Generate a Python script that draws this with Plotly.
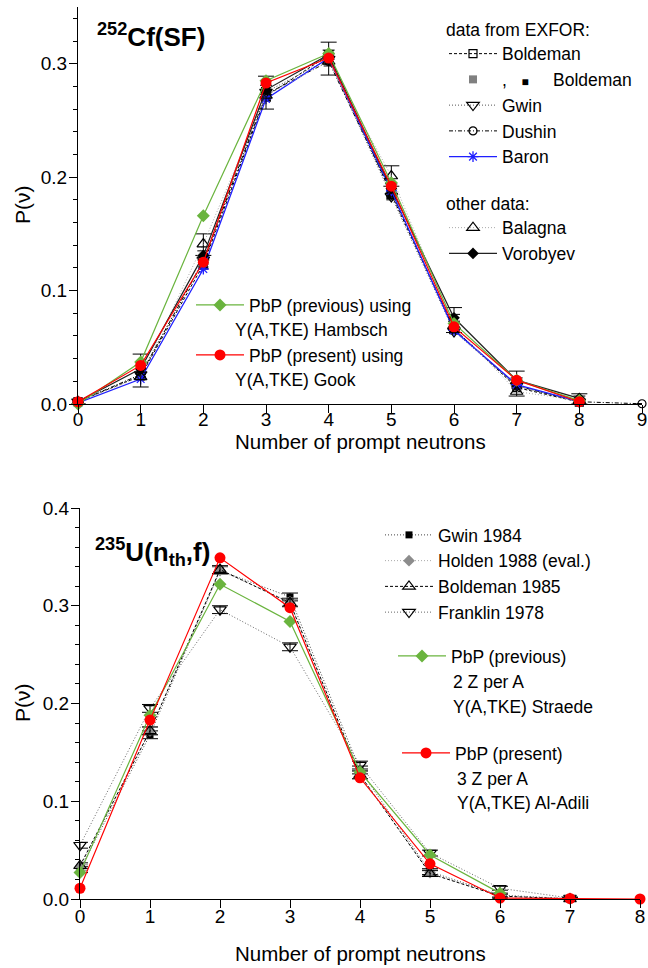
import plotly.graph_objects as go

W, H = 648, 968
FONT = "Liberation Sans, Arial, sans-serif"

# ---------------- data: 252Cf(SF) ----------------
nu_cf = [0, 1, 2, 3, 4, 5, 6, 7, 8, 9]
cf_boldeman_open = [0.0021, 0.0247, 0.1229, 0.2714, 0.3076, 0.1849, 0.0662, 0.0145, 0.0017]
cf_boldeman_gray = [0.0020, 0.0250, 0.1240, 0.2730, 0.3060, 0.1860, 0.0650, 0.0150, 0.0020]
cf_boldeman_black = [0.0020, 0.0240, 0.1220, 0.2710, 0.3040, 0.1840, 0.0670, 0.0160, 0.0020]
cf_gwin = [0.0020, 0.0260, 0.1270, 0.2750, 0.3040, 0.1830, 0.0640, 0.0160, 0.0020]
cf_dushin = [0.0020, 0.0260, 0.1260, 0.2730, 0.3020, 0.1870, 0.0660, 0.0160, 0.0020, 0.0002]
cf_baron = [0.0010, 0.0220, 0.1190, 0.2690, 0.3050, 0.1880, 0.0650, 0.0170, 0.0020]
cf_balagna = [0.0020, 0.0240, 0.1410, 0.2720, 0.3020, 0.2010, 0.0690, 0.0110, 0.0030]
cf_balagna_err_plus = [0.002, 0.020, 0.009, 0.017, 0.017, 0.009, 0.016, 0.018, 0.006]
cf_balagna_err_minus = [0.002, 0.009, 0.010, 0.012, 0.012, 0.009, 0.006, 0.004, 0.003]
cf_vorobyev = [0.0020, 0.0310, 0.1310, 0.2770, 0.3080, 0.1900, 0.0760, 0.0210, 0.0050]
cf_vorobyev_err = [0.001, 0.003, 0.004, 0.004, 0.004, 0.004, 0.003, 0.002, 0.002]
cf_exp_err = [0.0005, 0.002, 0.003, 0.004, 0.004, 0.003, 0.002, 0.001, 0.0005, 0.0002]
cf_pbp_prev = [0.000, 0.037, 0.166, 0.285, 0.309, 0.195, 0.071, 0.021, 0.003]
cf_pbp_pres = [0.002, 0.034, 0.125, 0.283, 0.305, 0.192, 0.068, 0.021, 0.002]

# ---------------- data: 235U(nth,f) ----------------
nu_u = [0, 1, 2, 3, 4, 5, 6, 7, 8]
u_gwin84 = [0.030, 0.168, 0.336, 0.309, 0.132, 0.028, 0.004, 0.0003]
u_holden88 = [0.032, 0.172, 0.336, 0.304, 0.127, 0.027, 0.003, 0.0001]
u_boldeman85 = [0.034, 0.172, 0.337, 0.303, 0.127, 0.026, 0.003, 0.0001]
u_franklin78 = [0.055, 0.195, 0.296, 0.258, 0.137, 0.047, 0.011, 0.001]
u_exp_err = [0.003, 0.004, 0.004, 0.004, 0.004, 0.003, 0.002, 0.001]
u_pbp_prev = [0.027, 0.188, 0.322, 0.284, 0.130, 0.045, 0.006]
u_pbp_pres = [0.011, 0.183, 0.349, 0.298, 0.124, 0.036, 0.001, 0.0005, 0.0]

# tick values
x_ticks_cf = [0, 1, 2, 3, 4, 5, 6, 7, 8, 9]
x_ticks_u = [0, 1, 2, 3, 4, 5, 6, 7, 8]
y_ticks_cf = [0.0, 0.1, 0.2, 0.3]
y_ticks_u = [0.0, 0.1, 0.2, 0.3, 0.4]

GREEN = "#6ab43e"
RED = "#ff0000"
BLUE = "#1f1fff"


def px(x):
    return x / W


def py(y):
    return 1 - y / H


fig = go.Figure()


def err(arr, plus=None, minus=None, color="black", width=5):
    if plus is None:
        return dict(type="data", array=arr, color=color, thickness=1, width=width, visible=True)
    return dict(type="data", symmetric=False, array=plus, arrayminus=minus,
                color=color, thickness=1, width=width, visible=True)


def add(x, y, name, xa, ya, legend=None, mode="lines+markers", line=None, marker=None,
        error_y=None, showlegend=True):
    n = len(y)
    fig.add_trace(go.Scatter(
        x=x[:n], y=y, name=name, mode=mode, xaxis=xa, yaxis=ya,
        line=line, marker=marker, error_y=error_y, cliponaxis=False,
        legend=legend, showlegend=showlegend, hoverinfo="skip"))


# ---- top panel traces ----
add(nu_cf, cf_boldeman_open, "Boldeman", "x", "y", legend="legend",
    line=dict(color="black", width=1, dash="3px,2px"),
    marker=dict(symbol="square-open", size=8, color="black", line=dict(width=1.2)),
    error_y=err(cf_exp_err[:9]))
add(nu_cf, cf_boldeman_gray, ',   <span style="font-size:12px">■</span>     Boldeman', "x", "y",
    legend="legend", mode="markers",
    marker=dict(symbol="square", size=8, color="#808080"),
    error_y=err(cf_exp_err[:9]))
add(nu_cf, cf_boldeman_black, "Boldeman black", "x", "y", mode="markers",
    marker=dict(symbol="square", size=7, color="black"),
    error_y=err(cf_exp_err[:9]), showlegend=False)
add(nu_cf, cf_gwin, "Gwin", "x", "y", legend="legend",
    line=dict(color="#555555", width=1, dash="1px,2px"),
    marker=dict(symbol="triangle-down-open", size=11, color="black", line=dict(width=1.2)),
    error_y=err(cf_exp_err[:9]))
add(nu_cf, cf_dushin, "Dushin", "x", "y", legend="legend",
    line=dict(color="black", width=1, dash="4px,2px,1px,2px"),
    marker=dict(symbol="circle-open", size=8, color="black", line=dict(width=1.2)),
    error_y=err(cf_exp_err))
add(nu_cf, cf_baron, "Baron", "x", "y", legend="legend",
    line=dict(color=BLUE, width=1.3),
    marker=dict(symbol="asterisk-open", size=9, color=BLUE, line=dict(width=1.3, color=BLUE)))
add(nu_cf, cf_balagna, "Balagna", "x", "y", legend="legend2",
    line=dict(color="#aaaaaa", width=1, dash="1px,2px"),
    marker=dict(symbol="triangle-up-open", size=11, color="black", line=dict(width=1.2)),
    error_y=err(None, cf_balagna_err_plus, cf_balagna_err_minus, width=8))
add(nu_cf, cf_vorobyev, "Vorobyev", "x", "y", legend="legend2",
    line=dict(color="#222222", width=1.2),
    marker=dict(symbol="diamond", size=9, color="black"),
    error_y=err(cf_vorobyev_err, width=6))
add(nu_cf, cf_pbp_prev, "PbP (previous) using", "x", "y", legend="legend3",
    line=dict(color=GREEN, width=1.2),
    marker=dict(symbol="diamond", size=10, color=GREEN))
add(nu_cf, cf_pbp_pres, "PbP (present) using", "x", "y", legend="legend4",
    line=dict(color=RED, width=1.2),
    marker=dict(symbol="circle", size=11, color=RED))

# ---- bottom panel traces ----
add(nu_u, u_gwin84, "Gwin 1984", "x2", "y2", legend="legend5",
    line=dict(color="#444444", width=1, dash="1px,2px"),
    marker=dict(symbol="square", size=7, color="black"),
    error_y=err(u_exp_err, width=8))
add(nu_u, u_holden88, "Holden 1988 (eval.)", "x2", "y2", legend="legend5",
    line=dict(color="#aaaaaa", width=1, dash="1px,2px"),
    marker=dict(symbol="diamond", size=9, color="#8c8c8c"),
    error_y=err(u_exp_err, color="#8c8c8c", width=8))
add(nu_u, u_boldeman85, "Boldeman 1985", "x2", "y2", legend="legend5",
    line=dict(color="black", width=1, dash="3px,2px"),
    marker=dict(symbol="triangle-up-open", size=11, color="black", line=dict(width=1.2)),
    error_y=err(u_exp_err, width=8))
add(nu_u, u_franklin78, "Franklin 1978", "x2", "y2", legend="legend5",
    line=dict(color="#666666", width=1, dash="1px,2px"),
    marker=dict(symbol="triangle-down-open", size=11, color="black", line=dict(width=1.2)),
    error_y=err(u_exp_err, width=8))
add(nu_u, u_pbp_prev, "PbP (previous)", "x2", "y2", legend="legend6",
    line=dict(color=GREEN, width=1.2),
    marker=dict(symbol="diamond", size=10, color=GREEN))
add(nu_u, u_pbp_pres, "PbP (present)", "x2", "y2", legend="legend7",
    line=dict(color=RED, width=1.2),
    marker=dict(symbol="circle", size=11, color=RED))

# ---- axes ----
TF = dict(family=FONT, size=19, color="black")
common = dict(showline=True, linecolor="black", linewidth=1.3, showgrid=False, zeroline=False,
              ticklen=8, tickwidth=1.2, tickcolor="black", tickfont=TF, automargin=False)
dom_x1 = [px(78), px(642)]
dom_y1 = [py(404), py(7)]
dom_x2 = [px(80), px(640)]
dom_y2 = [py(899), py(508)]

layout = dict(
    width=W, height=H, margin=dict(l=0, r=0, t=0, b=0),
    paper_bgcolor="white", plot_bgcolor="white",
    font=dict(family=FONT, size=18, color="black"),
    xaxis=dict(common, domain=dom_x1, range=[0, 9], anchor="y", ticks="outside",
               tickvals=x_ticks_cf, ticklabelstandoff=-10),
    yaxis=dict(common, domain=dom_y1, range=[0, 0.35], anchor="x", ticks="outside",
               tickvals=y_ticks_cf, tickformat=".1f", ticklabelstandoff=-2,
               minor=dict(dtick=0.02, ticks="outside", ticklen=4, tickcolor="black")),
    xaxis3=dict(common, overlaying="x", side="top", anchor="y", range=[0, 9], ticks="inside",
                tickvals=x_ticks_cf, showticklabels=False),
    yaxis3=dict(common, overlaying="y", side="right", anchor="x", range=[0, 0.35],
                ticks="inside", tickvals=y_ticks_cf, showticklabels=False,
                minor=dict(dtick=0.02, ticks="inside", ticklen=4, tickcolor="black")),
    xaxis2=dict(common, domain=dom_x2, range=[0, 8], anchor="y2", ticks="outside",
                tickvals=x_ticks_u, ticklabelstandoff=-8),
    yaxis2=dict(common, domain=dom_y2, range=[0, 0.4], anchor="x2", ticks="outside",
                tickvals=y_ticks_u, tickformat=".1f", ticklabelstandoff=-2,
                minor=dict(dtick=0.02, ticks="outside", ticklen=4, tickcolor="black")),
    xaxis4=dict(common, overlaying="x2", side="top", anchor="y2", range=[0, 8],
                ticks="inside", tickvals=x_ticks_u, showticklabels=False),
    yaxis4=dict(common, overlaying="y2", side="right", anchor="x2", range=[0, 0.4],
                ticks="inside", tickvals=y_ticks_u, showticklabels=False,
                minor=dict(dtick=0.02, ticks="inside", ticklen=4, tickcolor="black")),
)

LF = dict(family=FONT, size=17.5, color="black")
LEG = dict(bgcolor="rgba(0,0,0,0)", borderwidth=0, font=LF,
           xanchor="left", yanchor="top", itemwidth=48, tracegroupgap=0, traceorder="normal",
           itemclick=False, itemdoubleclick=False)
layout["legend"] = dict(LEG, x=px(444), y=py(13),
                        title=dict(text="data from EXFOR:", font=LF))
layout["legend2"] = dict(LEG, x=px(444), y=py(187), title=dict(text="other data:", font=LF))
layout["legend3"] = dict(LEG, x=px(191), y=py(287))
layout["legend4"] = dict(LEG, x=px(191), y=py(337))
layout["legend5"] = dict(LEG, x=px(380), y=py(517))
layout["legend6"] = dict(LEG, x=px(393), y=py(638))
layout["legend7"] = dict(LEG, x=px(397), y=py(735))

fig.update_layout(**layout)

ann = [
    dict(text="<b><sup>252</sup>Cf(SF)</b>", x=px(95), y=py(35), xanchor="left", yanchor="middle",
         font=dict(size=26)),
    dict(text="<b><sup>235</sup>U(n<sub>th</sub>,f)</b>", x=px(93), y=py(552), xanchor="left",
         yanchor="middle", font=dict(size=26)),
    dict(text="Y(A,TKE) Hambsch", x=px(233), y=py(330), xanchor="left", yanchor="middle"),
    dict(text="Y(A,TKE) Gook", x=px(233), y=py(380), xanchor="left", yanchor="middle"),
    dict(text="2 Z per A", x=px(451), y=py(682), xanchor="left", yanchor="middle"),
    dict(text="Y(A,TKE) Straede", x=px(451), y=py(707), xanchor="left", yanchor="middle"),
    dict(text="3 Z per A", x=px(455), y=py(779), xanchor="left", yanchor="middle"),
    dict(text="Y(A,TKE) Al-Adili", x=px(455), y=py(803), xanchor="left", yanchor="middle"),
    dict(text="Number of prompt neutrons", x=px(360), y=py(441), xanchor="center",
         yanchor="middle", font=dict(size=20.5)),
    dict(text="Number of prompt neutrons", x=px(360), y=py(953), xanchor="center",
         yanchor="middle", font=dict(size=20.5)),
    dict(text="P(ν)", x=px(22), y=py(205), textangle=-90, xanchor="center", yanchor="middle",
         font=dict(size=21)),
    dict(text="P(ν)", x=px(22), y=py(703), textangle=-90, xanchor="center", yanchor="middle",
         font=dict(size=21)),
]
for a in ann:
    a.setdefault("font", dict(size=17.5))
    a["font"] = dict(family=FONT, color="black", **a["font"])
    a.update(xref="paper", yref="paper", showarrow=False)
fig.update_layout(annotations=ann)

fig.write_html("out.html")
